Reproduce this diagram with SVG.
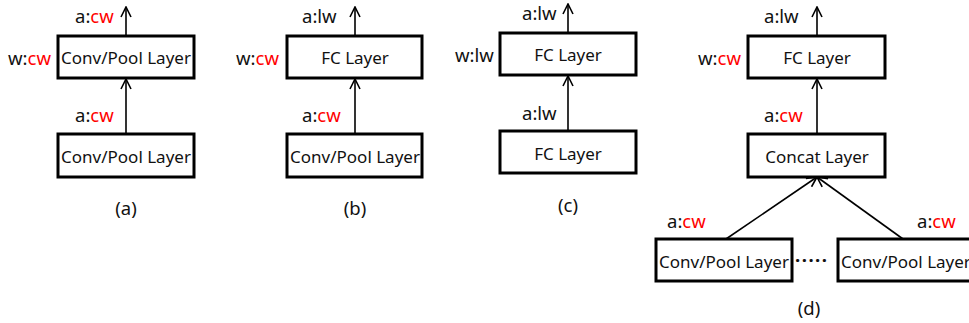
<svg xmlns="http://www.w3.org/2000/svg" width="969" height="323" viewBox="0 0 969 323">
<style>
.box{fill:#fff;stroke:#000;stroke-width:3}
.t{font-family:"Noto Sans","Open Sans",sans-serif;font-size:17px;fill:#111}
.l{font-family:"Noto Sans","Open Sans",sans-serif;font-size:18.5px;fill:#111}
.c{text-anchor:middle}
.r{fill:#f00}
.ln{stroke:#000;stroke-width:1.6;fill:none}
</style>
<defs>
<marker id="ah" viewBox="0 0 12 12" refX="11" refY="6" markerWidth="12" markerHeight="12" markerUnits="userSpaceOnUse" orient="auto">
<path d="M1,1 L11,6 L1,11" fill="none" stroke="#000" stroke-width="1.6"/>
</marker>
</defs>
<g id="connectors">
<line class="ln" x1="126" y1="36" x2="126" y2="7" marker-end="url(#ah)"/>
<line class="ln" x1="126" y1="134" x2="126" y2="79" marker-end="url(#ah)"/>
<line class="ln" x1="355" y1="36" x2="355" y2="7" marker-end="url(#ah)"/>
<line class="ln" x1="355" y1="134" x2="355" y2="79" marker-end="url(#ah)"/>
<line class="ln" x1="568" y1="33" x2="568" y2="4" marker-end="url(#ah)"/>
<line class="ln" x1="568" y1="131" x2="568" y2="76" marker-end="url(#ah)"/>
<line class="ln" x1="817" y1="36" x2="817" y2="7" marker-end="url(#ah)"/>
<line class="ln" x1="817" y1="134" x2="817" y2="79" marker-end="url(#ah)"/>
<line class="ln" x1="726" y1="239" x2="817" y2="177" marker-end="url(#ah)"/>
<line class="ln" x1="903" y1="239" x2="817" y2="177" marker-end="url(#ah)"/>
</g>
<g id="a1"><rect class="box" x="58" y="36" width="136" height="42"/><text class="t c" x="126" y="64">Conv/Pool Layer</text></g>
<g id="a2"><rect class="box" x="58" y="134" width="136" height="43"/><text class="t c" x="126" y="163">Conv/Pool Layer</text></g>
<g id="b1"><rect class="box" x="287" y="36" width="135" height="42"/><text class="t c" x="355" y="64">FC Layer</text></g>
<g id="b2"><rect class="box" x="287" y="134" width="135" height="43"/><text class="t c" x="355" y="163">Conv/Pool Layer</text></g>
<g id="c1"><rect class="box" x="500" y="33" width="136" height="42"/><text class="t c" x="568" y="61">FC Layer</text></g>
<g id="c2"><rect class="box" x="500" y="131" width="136" height="42"/><text class="t c" x="568" y="160">FC Layer</text></g>
<g id="d1"><rect class="box" x="748" y="36" width="137" height="42"/><text class="t c" x="817" y="64">FC Layer</text></g>
<g id="d2"><rect class="box" x="748" y="134" width="137" height="43"/><text class="t c" x="817" y="163">Concat Layer</text></g>
<g id="d3"><rect class="box" x="656" y="239" width="136" height="42"/><text class="t c" x="724" y="268">Conv/Pool Layer</text></g>
<g id="d4"><rect class="box" x="838" y="239" width="140" height="42"/><text class="t" x="841" y="268">Conv/Pool Layer</text></g>
<g id="labels">
<text class="l" x="75" y="23">a:<tspan class="r">cw</tspan></text>
<text class="l" x="8" y="65">w:<tspan class="r">cw</tspan></text>
<text class="l" x="75" y="122">a:<tspan class="r">cw</tspan></text>
<text class="l c" x="126" y="215">(a)</text>
<text class="l" x="302" y="23">a:lw</text>
<text class="l" x="236" y="65">w:<tspan class="r">cw</tspan></text>
<text class="l" x="302" y="122">a:<tspan class="r">cw</tspan></text>
<text class="l c" x="355" y="215">(b)</text>
<text class="l" x="522" y="20">a:lw</text>
<text class="l" x="455" y="62">w:lw</text>
<text class="l" x="522" y="120">a:lw</text>
<text class="l c" x="568" y="212">(c)</text>
<text class="l" x="764" y="23">a:lw</text>
<text class="l" x="698" y="65">w:<tspan class="r">cw</tspan></text>
<text class="l" x="764" y="122">a:<tspan class="r">cw</tspan></text>
<text class="l" x="667" y="228">a:<tspan class="r">cw</tspan></text>
<text class="l" x="917" y="228">a:<tspan class="r">cw</tspan></text>
<text class="l c" x="809" y="315">(d)</text>
<text class="l" x="795" y="267" style="font-weight:bold;letter-spacing:1.5px">·····</text>
</g>
</svg>
